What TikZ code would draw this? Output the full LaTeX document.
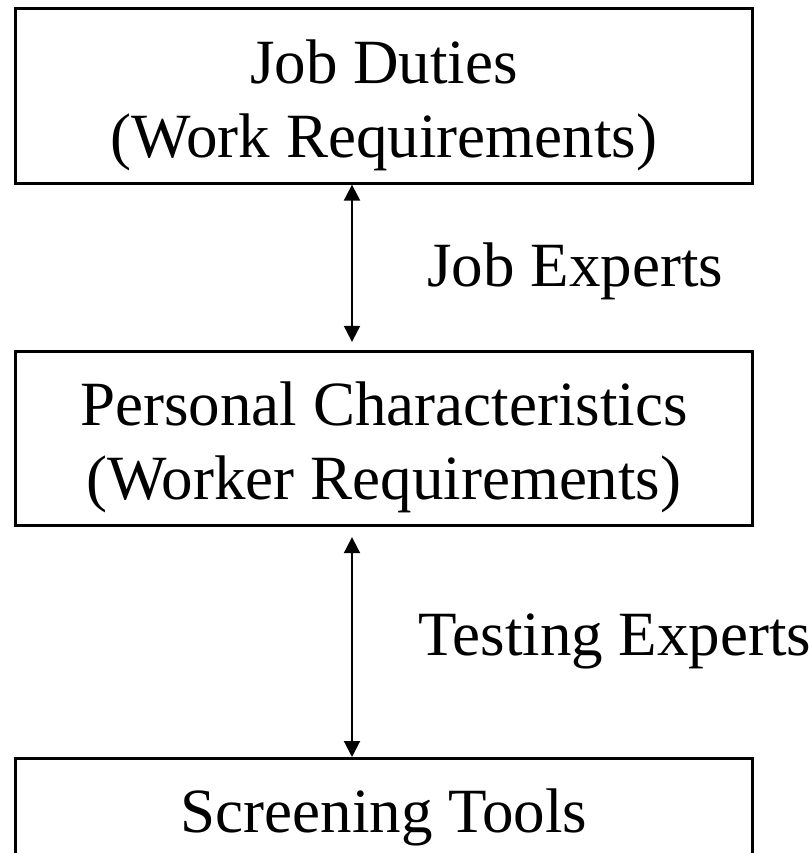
\documentclass[tikz,border=0pt]{standalone}
\usepackage{fontspec}
\setmainfont{Liberation Serif}
\usetikzlibrary{arrows.meta, % For the triangle tips
                positioning, % For node-relative placements
               }

\tikzset{
  box/.style={draw, line width=1.4pt, minimum width=368.5pt,
              minimum height=87.25pt, align=center, inner sep=0pt,
              text height=73.25pt, text depth=12pt},
  link/.style={{Triangle[width=8pt,length=8pt]}-{Triangle[width=8pt,length=8pt]},
               line width=1pt},
  tag/.style={anchor=base west, inner sep=0pt},
}

\begin{document}
\begin{tikzpicture}[x=0.5pt, y=-0.5pt, font=\fontsize{31.5}{37}\selectfont]
  \useasboundingbox (0,0) rectangle (809,853);
  \clip (0,0) rectangle (809,853);

  \node[box] (duties) at (384,96) {Job Duties\\(Work Requirements)};
  \node[box] (traits) at (384,438.5) {Personal Characteristics\\(Worker Requirements)};
  % last box runs off the bottom edge
  \node[box, anchor=north, text height=37pt, text depth=60pt]
    (tools) at (384,757) {Screening Tools};

  \node[tag] (jobexp) at (427,286) {Job Experts};
  \node[tag] (testexp) at (418,655) {Testing Experts};

  \draw[link] ([xshift=-16pt]duties.south) -- ([xshift=-16pt,yshift=4pt]traits.north);
  \draw[link] ([xshift=-16pt,yshift=-5pt]traits.south) -- ([xshift=-16pt]tools.north);

\end{tikzpicture}
\end{document}
